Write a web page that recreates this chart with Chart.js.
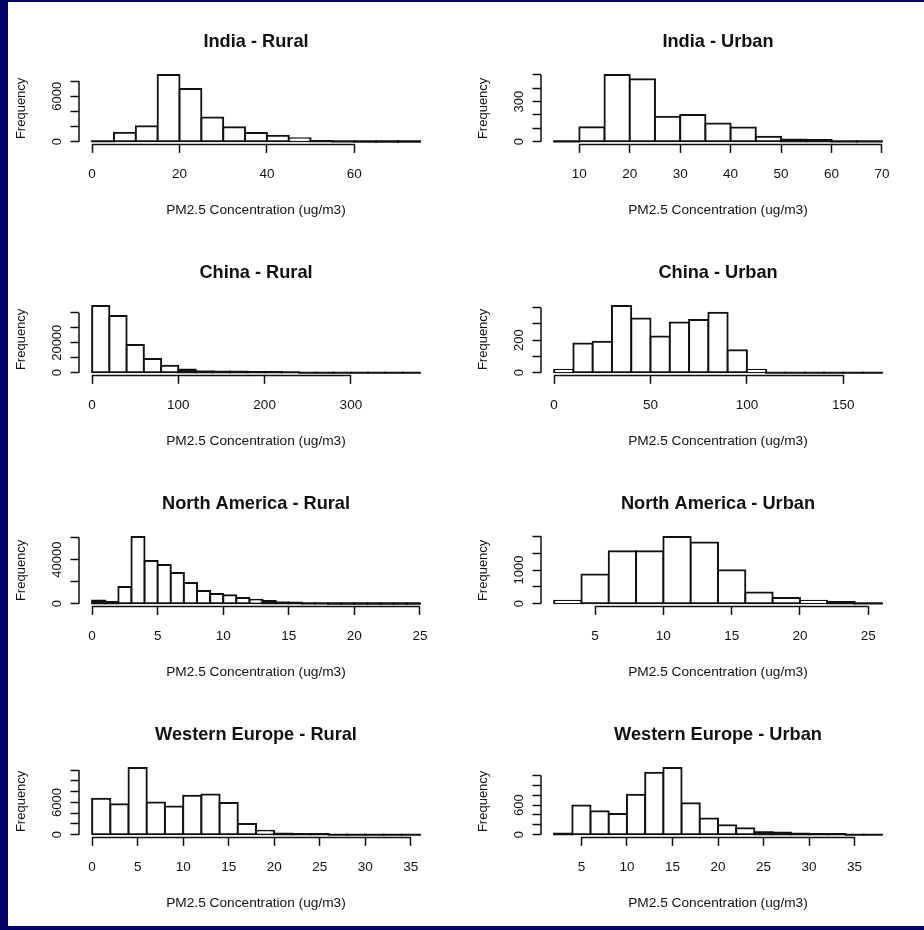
<!DOCTYPE html>
<html>
<head>
<meta charset="utf-8">
<script src="https://cdn.jsdelivr.net/npm/chart.js@4.4.0/dist/chart.umd.min.js"></script>
<style>
  html, body { margin: 0; padding: 0; overflow: hidden; background: #fff; }
  #frame { position: absolute; left: 0; top: 0; width: 924px; height: 930px; box-sizing: border-box;
           border-left: 8px solid #030366; border-top: 2px solid #030366; border-bottom: 4px solid #030366; }
  canvas { position: absolute; }
</style>
</head>
<body>
<div id="frame"></div>

<script>
// India
const indiaRuralBreaks = [0, 5, 10, 15, 20, 25, 30, 35, 40, 45, 50, 55, 60, 65, 70, 75];
const indiaRuralCounts = [60, 1200, 2050, 8800, 6950, 3200, 1900, 1150, 800, 450, 90, 30, 10, 5, 2];
const indiaRuralXTicks = [0, 20, 40, 60];
const indiaRuralYTicks = [0, 2000, 4000, 6000, 8000];
const indiaRuralYLabels = ['0', '', '', '6000', ''];

const indiaUrbanBreaks = [5, 10, 15, 20, 25, 30, 35, 40, 45, 50, 55, 60, 65, 70];
const indiaUrbanCounts = [1, 108, 498, 467, 187, 200, 137, 107, 37, 14, 12, 1, 1];
const indiaUrbanXTicks = [10, 20, 30, 40, 50, 60, 70];
const indiaUrbanYTicks = [0, 100, 200, 300, 400, 500];
const indiaUrbanYLabels = ['0', '', '', '300', '', ''];

// China
const chinaRuralBreaks = [0, 20, 40, 60, 80, 100, 120, 140, 160, 180, 200, 220, 240, 260, 280, 300, 320, 340, 360, 380];
const chinaRuralCounts = [44500, 37800, 18550, 9160, 4690, 2000, 900, 700, 600, 500, 450, 400, 0, 0, 0, 0, 0, 0, 0];
const chinaRuralXTicks = [0, 100, 200, 300];
const chinaRuralYTicks = [0, 10000, 20000, 30000, 40000];
const chinaRuralYLabels = ['0', '', '20000', '', ''];

const chinaUrbanBreaks = [0, 10, 20, 30, 40, 50, 60, 70, 80, 90, 100, 110, 120, 130, 140, 150, 160, 170];
const chinaUrbanCounts = [19, 179, 190, 410, 334, 223, 309, 324, 369, 138, 19, 0, 0, 0, 0, 0, 0];
const chinaUrbanXTicks = [0, 50, 100, 150];
const chinaUrbanYTicks = [0, 100, 200, 300, 400];
const chinaUrbanYLabels = ['0', '', '200', '', ''];

// North America
const naRuralBreaks = [0, 1, 2, 3, 4, 5, 6, 7, 8, 9, 10, 11, 12, 13, 14, 15, 16, 17, 18, 19, 20, 21, 22, 23, 24, 25];
const naRuralCounts = [2700, 1500, 15100, 60500, 38700, 35100, 27800, 18800, 11500, 8800, 7600, 5100, 3600,
                       2400, 1200, 900, 220, 110, 60, 30, 15, 8, 4, 2, 1];
const naRuralXTicks = [0, 5, 10, 15, 20, 25];
const naRuralYTicks = [0, 20000, 40000, 60000];
const naRuralYLabels = ['0', '', '40000', ''];

const naUrbanBreaks = [2, 4, 6, 8, 10, 12, 14, 16, 18, 20, 22, 24, 26];
const naUrbanCounts = [90, 870, 1560, 1560, 1980, 1820, 990, 330, 170, 90, 50, 10];
const naUrbanXTicks = [5, 10, 15, 20, 25];
const naUrbanYTicks = [0, 500, 1000, 1500, 2000];
const naUrbanYLabels = ['0', '', '1000', '', ''];

// Western Europe
const weRuralBreaks = [0, 2, 4, 6, 8, 10, 12, 14, 16, 18, 20, 22, 24, 26, 28, 30, 32, 34, 36];
const weRuralCounts = [6670, 5660, 12390, 5975, 5220, 7230, 7485, 5910, 2010, 755, 190, 150, 120, 0, 0, 0, 0, 0];
const weRuralXTicks = [0, 5, 10, 15, 20, 25, 30, 35];
const weRuralYTicks = [0, 2000, 4000, 6000, 8000, 10000, 12000];
const weRuralYLabels = ['0', '', '', '6000', '', '', ''];

const weUrbanBreaks = [2, 4, 6, 8, 10, 12, 14, 16, 18, 20, 22, 24, 26, 28, 30, 32, 34, 36, 38];
const weUrbanCounts = [20, 590, 473, 418, 808, 1254, 1350, 637, 329, 192, 130, 48, 41, 20, 15, 15, 0, 0];
const weUrbanXTicks = [5, 10, 15, 20, 25, 30, 35];
const weUrbanYTicks = [0, 200, 400, 600, 800, 1000, 1200];
const weUrbanYLabels = ['0', '', '', '600', '', '', ''];

const xTitle = 'PM2.5 Concentration (ug/m3)';
const yTitle = 'Frequency';

const panels = [
  { title: 'India - Rural', row: 0, col: 0, breaks: indiaRuralBreaks, counts: indiaRuralCounts, xTicks: indiaRuralXTicks, yTicks: indiaRuralYTicks, yLabels: indiaRuralYLabels },
  { title: 'India - Urban', row: 0, col: 1, breaks: indiaUrbanBreaks, counts: indiaUrbanCounts, xTicks: indiaUrbanXTicks, yTicks: indiaUrbanYTicks, yLabels: indiaUrbanYLabels },
  { title: 'China - Rural', row: 1, col: 0, breaks: chinaRuralBreaks, counts: chinaRuralCounts, xTicks: chinaRuralXTicks, yTicks: chinaRuralYTicks, yLabels: chinaRuralYLabels },
  { title: 'China - Urban', row: 1, col: 1, breaks: chinaUrbanBreaks, counts: chinaUrbanCounts, xTicks: chinaUrbanXTicks, yTicks: chinaUrbanYTicks, yLabels: chinaUrbanYLabels },
  { title: 'North America - Rural', row: 2, col: 0, breaks: naRuralBreaks, counts: naRuralCounts, xTicks: naRuralXTicks, yTicks: naRuralYTicks, yLabels: naRuralYLabels },
  { title: 'North America - Urban', row: 2, col: 1, breaks: naUrbanBreaks, counts: naUrbanCounts, xTicks: naUrbanXTicks, yTicks: naUrbanYTicks, yLabels: naUrbanYLabels },
  { title: 'Western Europe - Rural', row: 3, col: 0, breaks: weRuralBreaks, counts: weRuralCounts, xTicks: weRuralXTicks, yTicks: weRuralYTicks, yLabels: weRuralYLabels },
  { title: 'Western Europe - Urban', row: 3, col: 1, breaks: weUrbanBreaks, counts: weUrbanCounts, xTicks: weUrbanXTicks, yTicks: weUrbanYTicks, yLabels: weUrbanYLabels }
];

// layout (pixels)
const PANEL_W = 462, PANEL_H = 231;
const rowTops = [2, 233, 464, 695];
const FONT = '"Liberation Sans", Arial, Helvetica, sans-serif';
const INK = '#111';

// R style axes: line only between first and last tick, rotated y labels
const rAxes = {
  id: 'rAxes',
  afterDraw(chart) {
    const { ctx, chartArea, scales: { x, y } } = chart;
    const xt = x.ticks, yt = y.ticks;
    ctx.save();
    ctx.strokeStyle = INK;
    ctx.lineWidth = 1.5;
    ctx.beginPath();
    ctx.moveTo(x.getPixelForValue(xt[0].value), chartArea.bottom);
    ctx.lineTo(x.getPixelForValue(xt[xt.length - 1].value), chartArea.bottom);
    ctx.moveTo(chartArea.left, y.getPixelForValue(yt[0].value));
    ctx.lineTo(chartArea.left, y.getPixelForValue(yt[yt.length - 1].value));
    ctx.stroke();

    ctx.fillStyle = INK;
    ctx.font = '13px ' + FONT;
    ctx.textAlign = 'center';
    ctx.textBaseline = 'middle';
    yt.forEach(t => {
      if (!t.label) return;
      ctx.save();
      ctx.translate(chartArea.left - 22, y.getPixelForValue(t.value));
      ctx.rotate(-Math.PI / 2);
      ctx.fillText(t.label, 0, 0);
      ctx.restore();
    });
    ctx.restore();
  }
};

function makePanel(p) {
  const canvas = document.createElement('canvas');
  canvas.width = PANEL_W;
  canvas.height = PANEL_H;
  canvas.style.left = (p.col * PANEL_W) + 'px';
  canvas.style.top = rowTops[p.row] + 'px';
  document.body.appendChild(canvas);

  const b0 = p.breaks[0], bN = p.breaks[p.breaks.length - 1];
  const maxCount = Math.max(...p.counts);
  const thin = c => c.raw && c.raw.y < 0.045 * maxCount;

  new Chart(canvas.getContext('2d'), {
    type: 'bar',
    data: {
      datasets: [{
        data: p.counts.map((c, i) => ({ x: (p.breaks[i] + p.breaks[i + 1]) / 2, y: c })),
        backgroundColor: c => thin(c) ? INK : '#fff',
        borderColor: INK,
        borderWidth: c => thin(c) ? 0 : 2,
        borderSkipped: false,
        inflateAmount: 1,
        barPercentage: 1,
        categoryPercentage: 1
      }]
    },
    options: {
      responsive: false,
      animation: false,
      layout: { padding: { left: 0, right: 29, top: 0, bottom: 0 } },
      plugins: {
        legend: { display: false },
        tooltip: { enabled: false },
        title: {
          display: true,
          text: p.title,
          fullSize: false,
          color: INK,
          font: { family: FONT, size: 18.2, weight: 'bold' },
          padding: { top: 28.8, bottom: 19.7 }
        }
      },
      scales: {
        x: {
          type: 'linear',
          offset: false,
          min: b0 - 0.04 * (bN - b0),
          max: bN + 0.04 * (bN - b0),
          afterBuildTicks: s => { s.ticks = p.xTicks.map(v => ({ value: v })); },
          afterFit: s => { s.height = PANEL_H - 142.4; },
          border: { display: false },
          grid: { display: true, offset: false, drawOnChartArea: false, drawTicks: true, tickLength: 8.5, tickColor: INK, tickWidth: 1.5 },
          ticks: { autoSkip: false, maxRotation: 0, color: INK, padding: 13, font: { family: FONT, size: 13.5 }, callback: v => String(v) },
          title: { display: true, text: xTitle, color: INK, font: { family: FONT, size: 13.7 }, padding: { top: 0, bottom: 14.8 } }
        },
        y: {
          type: 'linear',
          min: -0.04 * maxCount,
          max: 1.04 * maxCount,
          afterBuildTicks: s => { s.ticks = p.yTicks.map(v => ({ value: v })); },
          afterFit: s => { s.width = 79; },
          border: { display: false },
          grid: { display: true, drawOnChartArea: false, drawTicks: true, tickLength: 8.5, tickColor: INK, tickWidth: 1.5 },
          ticks: { display: false, callback: (v, i) => p.yLabels[i] },
          title: { display: true, text: yTitle, color: INK, font: { family: FONT, size: 13 }, padding: { top: 14, bottom: 0 } }
        }
      }
    },
    plugins: [rAxes]
  });
}

panels.forEach(makePanel);
</script>
</body>
</html>
